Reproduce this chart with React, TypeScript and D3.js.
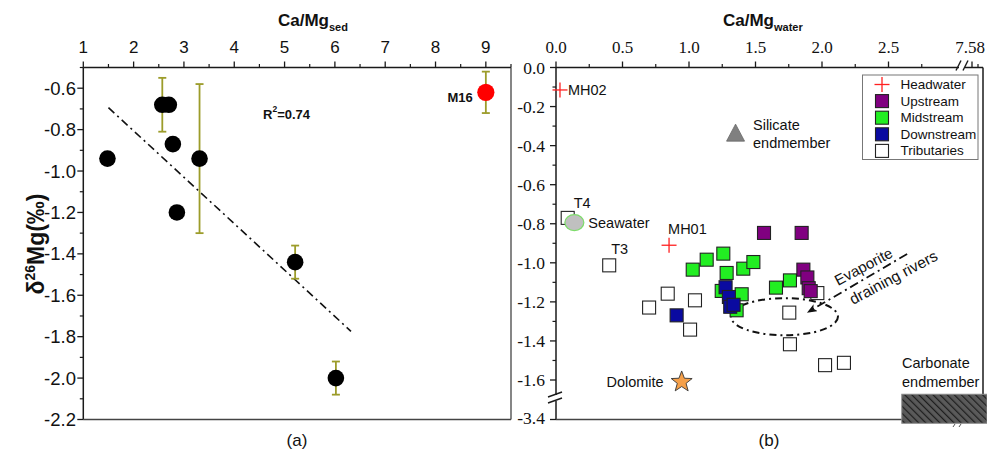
import React from "react";
import * as d3 from "d3";

// ---------- Data: panel (a) ----------
const sedX = [1.48, 2.57, 2.7, 2.78, 2.86, 3.31, 5.21, 6.02];
const sedY = [-0.94, -0.68, -0.68, -0.87, -1.2, -0.94, -1.44, -2.0];
const sedErr = [0, 0.13, 0, 0, 0, 0.36, 0.08, 0.08];
const m16X = 9.0;
const m16Y = -0.62;
const m16Err = 0.1;
const fitX = [1.5, 6.32];
const fitY = [-0.694, -1.774];
const sedTicks = [1, 2, 3, 4, 5, 6, 7, 8, 9];
const deltaTicksA = [-2.2, -2.0, -1.8, -1.6, -1.4, -1.2, -1.0, -0.8, -0.6];

// ---------- Data: panel (b) ----------
const headwater = [
  { x: 0.03, y: -0.115, label: "MH02" },
  { x: 0.85, y: -0.91, label: "MH01" },
];
const tributaries = [
  [0.088, -0.77], [0.4, -1.013], [0.84, -1.158], [0.7, -1.229], [1.045, -1.192],
  [1.008, -1.342], [1.754, -1.255], [1.759, -1.417], [2.023, -1.524], [2.165, -1.512],
  [1.965, -1.155],
];
const midstream = [
  [1.028, -1.035], [1.133, -0.984], [1.258, -0.953], [1.283, -1.052], [1.408, -1.03],
  [1.484, -0.996], [1.246, -1.144], [1.396, -1.161], [1.358, -1.243], [1.654, -1.127],
  [1.759, -1.09],
];
const downstream = [
  [0.907, -1.269], [1.275, -1.125], [1.3, -1.175], [1.31, -1.225], [1.335, -1.215],
];
const upstream = [
  [1.564, -0.847], [1.847, -0.847], [1.86, -1.035], [1.89, -1.075], [1.9, -1.13], [1.915, -1.145],
];
const silicate = { x: 1.35, y: -0.336 };
const seawater = { x: 0.138, y: -0.794 };
const dolomite = { x: 0.945, y: -1.61 };
const waterTicks = [0, 0.5, 1.0, 1.5, 2.0, 2.5];
const deltaTicksB = [0, -0.2, -0.4, -0.6, -0.8, -1.0, -1.2, -1.4, -1.6];
const evapEllipse = { cx: 1.718, cy: -1.276, rx: 0.402, ry: 0.095 };
const evapArrow = [[2.64, -0.955], [1.9, -1.25]];

const SANS = "'Liberation Sans', Arial, sans-serif";
const SERIF = "'Liberation Serif', 'Times New Roman', serif";

const xL = d3.scaleLinear().domain([1, 9.5]).range([83.3, 511]);
const yL = d3.scaleLinear().domain([-2.2, -0.5]).range([419.5, 67.5]);
const xR = d3.scaleLinear().domain([0, 2.5]).range([556, 888.5]);
const yR = d3.scaleLinear().domain([-1.6, 0]).range([380, 67.5]);

const AX = "#1a1a1a";
const ERR = "#9c9c2a";

function Square({ x, y, fill }: { x: number; y: number; fill: string }) {
  const s = 13;
  return <rect x={x - s / 2} y={y - s / 2} width={s} height={s} fill={fill} stroke="#222" strokeWidth={1.1} />;
}
function Cross({ x, y }: { x: number; y: number }) {
  const s = 7.5;
  return (
    <g stroke="#ff2020" strokeWidth={1.3}>
      <line x1={x - s} x2={x + s} y1={y} y2={y} />
      <line x1={x} x2={x} y1={y - s} y2={y + s} />
    </g>
  );
}
function starPath(cx: number, cy: number, ro: number, ri: number) {
  const pts: string[] = [];
  for (let i = 0; i < 10; i++) {
    const r = i % 2 === 0 ? ro : ri;
    const a = -Math.PI / 2 + (i * Math.PI) / 5;
    pts.push(`${cx + r * Math.cos(a)},${cy + r * Math.sin(a)}`);
  }
  return "M" + pts.join("L") + "Z";
}

export default function App() {
  const top = 67.5;
  const botL = 419.5;
  const leftA = xL(1);
  const rightA = xL(9.5);
  const leftB = xR(0);
  const rightB = 983;
  const botB = 419.5;
  const brkX = 962;
  const brkY = 398;

  const minorA: number[] = d3.range(1.5, 9.51, 1);
  const minorAy: number[] = d3.range(-2.1, -0.49, 0.2);
  const minorBx: number[] = d3.range(0.25, 2.76, 0.5);
  const minorBy: number[] = d3.range(-0.1, -1.51, -0.2);

  const hatchX = xR(2.6);
  const hatchY = yR(-1.673);

  return (
    <svg width={987} height={453} style={{ position: "absolute", left: 0, top: 0, background: "#fff" }}>
      <defs>
        <pattern id="hatch" width={5} height={5} patternUnits="userSpaceOnUse" patternTransform="rotate(-45)">
          <rect width={5} height={5} fill="#5a5a5a" />
          <line x1={0} y1={0} x2={0} y2={5} stroke="#1e1e1e" strokeWidth={2.4} />
        </pattern>
        <marker id="arr" viewBox="0 0 10 8" refX={8} refY={4} markerWidth={10} markerHeight={8} markerUnits="userSpaceOnUse" orient="auto">
          <path d="M0,0 L10,4 L0,8 L2.5,4 Z" fill="#111" />
        </marker>
      </defs>

      {/* ================= Panel (a) ================= */}
      <g>
        <line x1={leftA} x2={rightA} y1={top} y2={top} stroke={AX} strokeWidth={1.5} />
        <line x1={leftA} x2={leftA} y1={top} y2={botL} stroke={AX} strokeWidth={1.5} />
        <line x1={rightA} x2={rightA} y1={top} y2={botL} stroke="#444" strokeWidth={1.3} />
        <line x1={leftA} x2={rightA} y1={botL} y2={botL} stroke="#444" strokeWidth={1.3} />
        {sedTicks.map((t) => (
          <g key={"ta" + t}>
            <line x1={xL(t)} x2={xL(t)} y1={top} y2={top - 6} stroke={AX} strokeWidth={1.3} />
            <text x={xL(t)} y={47} textAnchor="middle" dominantBaseline="central" fontFamily={SANS} fontSize={17} fill="#111">
              {t}
            </text>
          </g>
        ))}
        {minorA.map((t) => (
          <line key={"tma" + t} x1={xL(t)} x2={xL(t)} y1={top} y2={top - 3.5} stroke={AX} strokeWidth={1.2} />
        ))}
        {deltaTicksA.map((t) => (
          <g key={"la" + t}>
            <line x1={leftA} x2={leftA - 6} y1={yL(t)} y2={yL(t)} stroke={AX} strokeWidth={1.3} />
            <text x={76} y={yL(t)} textAnchor="end" dominantBaseline="central" fontFamily={SANS} fontSize={18.5} fill="#111">
              {t.toFixed(1)}
            </text>
          </g>
        ))}
        {minorAy.map((t) => (
          <line key={"lma" + t} x1={leftA} x2={leftA - 3.5} y1={yL(t)} y2={yL(t)} stroke={AX} strokeWidth={1.2} />
        ))}
        <text x={278} y={26} fontFamily={SANS} fontSize={17} fontWeight="bold" fill="#111">
          Ca/Mg<tspan fontSize={11} dy={5}>sed</tspan>
        </text>
        <text
          transform="translate(44,244) rotate(-90)"
          textAnchor="middle"
          fontFamily={SANS}
          fontSize={23}
          fontWeight="bold"
          fill="#111"
        >
          δ<tspan fontSize={14} dy={-9}>26</tspan>
          <tspan dy={9}>Mg(‰)</tspan>
        </text>
        <line
          x1={xL(fitX[0])}
          y1={yL(fitY[0])}
          x2={xL(fitX[1])}
          y2={yL(fitY[1])}
          stroke="#111"
          strokeWidth={1.6}
          strokeDasharray="8,4,2,4"
        />
        {sedX.map((x, i) =>
          sedErr[i] > 0 ? (
            <g key={"e" + i} stroke={ERR} strokeWidth={1.8}>
              <line x1={xL(x)} x2={xL(x)} y1={yL(sedY[i] + sedErr[i])} y2={yL(sedY[i] - sedErr[i])} />
              <line x1={xL(x) - 4} x2={xL(x) + 4} y1={yL(sedY[i] + sedErr[i])} y2={yL(sedY[i] + sedErr[i])} />
              <line x1={xL(x) - 4} x2={xL(x) + 4} y1={yL(sedY[i] - sedErr[i])} y2={yL(sedY[i] - sedErr[i])} />
            </g>
          ) : null
        )}
        <g stroke={ERR} strokeWidth={1.8}>
          <line x1={xL(m16X)} x2={xL(m16X)} y1={yL(m16Y + m16Err)} y2={yL(m16Y - m16Err)} />
          <line x1={xL(m16X) - 4} x2={xL(m16X) + 4} y1={yL(m16Y + m16Err)} y2={yL(m16Y + m16Err)} />
          <line x1={xL(m16X) - 4} x2={xL(m16X) + 4} y1={yL(m16Y - m16Err)} y2={yL(m16Y - m16Err)} />
        </g>
        {sedX.map((x, i) => (
          <circle key={"c" + i} cx={xL(x)} cy={yL(sedY[i])} r={8.3} fill="#000" />
        ))}
        <circle cx={xL(m16X)} cy={yL(m16Y)} r={8.6} fill="#ff0000" />
        <text x={xL(m16X) - 13} y={yL(m16Y) + 5} textAnchor="end" dominantBaseline="central" fontFamily={SANS} fontSize={13} fontWeight="bold" fill="#111">
          M16
        </text>
        <text x={263} y={114} dominantBaseline="central" fontFamily={SANS} fontSize={13} fontWeight="bold" fill="#111">
          R<tspan fontSize={8.5} dy={-5}>2</tspan>
          <tspan dy={5}>=0.74</tspan>
        </text>
        <text x={297} y={440} textAnchor="middle" dominantBaseline="central" fontFamily={SANS} fontSize={17} fill="#111">
          (a)
        </text>
      </g>

      {/* ================= Panel (b) ================= */}
      <g>
        <line x1={leftB} x2={rightB} y1={top} y2={top} stroke={AX} strokeWidth={1.5} />
        <line x1={leftB} x2={leftB} y1={top} y2={botB} stroke={AX} strokeWidth={1.5} />
        <line x1={rightB} x2={rightB} y1={top} y2={hatchY} stroke={AX} strokeWidth={1.5} />
        <line x1={leftB} x2={hatchX} y1={botB} y2={botB} stroke="#444" strokeWidth={1.3} />
        {waterTicks.map((t) => (
          <g key={"tb" + t}>
            <line x1={xR(t)} x2={xR(t)} y1={top} y2={top - 6} stroke={AX} strokeWidth={1.3} />
            <text x={xR(t)} y={47} textAnchor="middle" dominantBaseline="central" fontFamily={SERIF} fontSize={17} fill="#111">
              {t.toFixed(1)}
            </text>
          </g>
        ))}
        {minorBx.map((t) => (
          <line key={"tmb" + t} x1={xR(t)} x2={xR(t)} y1={top} y2={top - 3.5} stroke={AX} strokeWidth={1.2} />
        ))}
        <line x1={972} x2={972} y1={top} y2={top - 6} stroke={AX} strokeWidth={1.3} />
        <line x1={978} x2={978} y1={top} y2={top - 3.5} stroke={AX} strokeWidth={1.2} />
        <text x={970} y={47} textAnchor="middle" dominantBaseline="central" fontFamily={SERIF} fontSize={17} fill="#111">
          7.58
        </text>
        <rect x={brkX - 3} y={top - 6} width={6} height={10} fill="#fff" />
        <line x1={brkX - 6} y1={top + 3} x2={brkX - 1} y2={top - 7} stroke={AX} strokeWidth={1.4} />
        <line x1={brkX + 1} y1={top + 3} x2={brkX + 6} y2={top - 7} stroke={AX} strokeWidth={1.4} />
        {deltaTicksB.map((t) => (
          <g key={"lb" + t}>
            <line x1={leftB} x2={leftB - 6} y1={yR(t)} y2={yR(t)} stroke={AX} strokeWidth={1.3} />
            <text x={545} y={yR(t)} textAnchor="end" dominantBaseline="central" fontFamily={SERIF} fontSize={17.5} fill="#111">
              {t === 0 ? "0.0" : t.toFixed(1)}
            </text>
          </g>
        ))}
        {minorBy.map((t) => (
          <line key={"lmb" + t} x1={leftB} x2={leftB - 3.5} y1={yR(t)} y2={yR(t)} stroke={AX} strokeWidth={1.2} />
        ))}
        <line x1={leftB} x2={leftB - 6} y1={botB} y2={botB} stroke={AX} strokeWidth={1.3} />
        <text x={545} y={botB - 2} textAnchor="end" dominantBaseline="central" fontFamily={SERIF} fontSize={17.5} fill="#111">
          -3.4
        </text>
        <rect x={leftB - 4} y={brkY - 3} width={8} height={6} fill="#fff" />
        <line x1={leftB - 8} y1={brkY - 1} x2={leftB + 6} y2={brkY - 6} stroke={AX} strokeWidth={1.4} />
        <line x1={leftB - 8} y1={brkY + 5} x2={leftB + 6} y2={brkY} stroke={AX} strokeWidth={1.4} />

        <text x={723} y={26} fontFamily={SANS} fontSize={17} fontWeight="bold" fill="#111">
          Ca/Mg<tspan fontSize={11} dy={5}>water</tspan>
        </text>

        <ellipse
          cx={xR(evapEllipse.cx)}
          cy={yR(evapEllipse.cy)}
          rx={xR(evapEllipse.rx) - xR(0)}
          ry={yR(0) - yR(evapEllipse.ry)}
          fill="none"
          stroke="#111"
          strokeWidth={2}
          strokeDasharray="7,4,2,4"
        />
        <line
          x1={xR(evapArrow[0][0])}
          y1={yR(evapArrow[0][1])}
          x2={xR(evapArrow[1][0])}
          y2={yR(evapArrow[1][1])}
          stroke="#111"
          strokeWidth={1.8}
          strokeDasharray="9,4,2,4"
          markerEnd="url(#arr)"
        />
        <text transform="translate(838,286) rotate(-28)" fontFamily={SANS} fontSize={15} fill="#111">
          Evaporite
        </text>
        <text transform="translate(853,305) rotate(-28)" fontFamily={SANS} fontSize={15.5} fill="#111">
          draining rivers
        </text>

        {tributaries.map(([x, y], i) => (
          <Square key={"tr" + i} x={xR(x)} y={yR(y)} fill="#fff" />
        ))}
        {midstream.map(([x, y], i) => (
          <Square key={"mi" + i} x={xR(x)} y={yR(y)} fill="#22ee22" />
        ))}
        {downstream.map(([x, y], i) => (
          <Square key={"do" + i} x={xR(x)} y={yR(y)} fill="#0a0aa0" />
        ))}
        {upstream.map(([x, y], i) => (
          <Square key={"up" + i} x={xR(x)} y={yR(y)} fill="#800080" />
        ))}
        {headwater.map((h) => (
          <g key={h.label}>
            <Cross x={xR(h.x)} y={yR(h.y)} />
          </g>
        ))}
        <text x={xR(headwater[0].x) + 8} y={yR(headwater[0].y)} dominantBaseline="central" fontFamily={SANS} fontSize={14.5} fill="#111">
          MH02
        </text>
        <text x={xR(headwater[1].x) - 1} y={yR(headwater[1].y) - 16} dominantBaseline="central" fontFamily={SANS} fontSize={14.5} fill="#111">
          MH01
        </text>
        <text x={xR(tributaries[0][0]) + 6} y={yR(tributaries[0][1]) - 15} dominantBaseline="central" fontFamily={SANS} fontSize={14.5} fill="#111">
          T4
        </text>
        <text x={xR(tributaries[1][0]) + 2} y={yR(tributaries[1][1]) - 16} dominantBaseline="central" fontFamily={SANS} fontSize={14.5} fill="#111">
          T3
        </text>

        <ellipse cx={xR(seawater.x)} cy={yR(seawater.y)} rx={9.5} ry={8} fill="#c0c0c0" stroke="#7ddc6a" strokeWidth={1.2} />
        <text x={xR(seawater.x) + 14} y={yR(seawater.y)} dominantBaseline="central" fontFamily={SANS} fontSize={14.5} fill="#111">
          Seawater
        </text>
        <path
          d={`M${xR(silicate.x)},${yR(silicate.y) - 9} L${xR(silicate.x) + 9},${yR(silicate.y) + 8} L${xR(silicate.x) - 9},${yR(silicate.y) + 8} Z`}
          fill="#808080"
          stroke="#666"
          strokeWidth={0.8}
        />
        <text x={753} y={yR(silicate.y) - 8} dominantBaseline="central" fontFamily={SANS} fontSize={14.5} fill="#111">
          Silicate
        </text>
        <text x={753} y={yR(silicate.y) + 10} dominantBaseline="central" fontFamily={SANS} fontSize={14.5} fill="#111">
          endmember
        </text>
        <path d={starPath(xR(dolomite.x), yR(dolomite.y), 11, 4.6)} fill="#f5a04a" stroke="#333" strokeWidth={0.9} />
        <text x={xR(dolomite.x) - 18} y={yR(dolomite.y)} textAnchor="end" dominantBaseline="central" fontFamily={SANS} fontSize={14.5} fill="#111">
          Dolomite
        </text>

        <rect x={hatchX} y={hatchY} width={987 - hatchX} height={29} fill="url(#hatch)" stroke="#888" strokeWidth={1} />
        <text x={902} y={363} dominantBaseline="central" fontFamily={SANS} fontSize={14.5} fill="#111">
          Carbonate
        </text>
        <text x={902} y={381.5} dominantBaseline="central" fontFamily={SANS} fontSize={14.5} fill="#111">
          endmember
        </text>
        <line x1={953} y1={427} x2={955} y2={424} stroke="#555" strokeWidth={1} />
        <line x1={959} y1={427} x2={961} y2={424} stroke="#555" strokeWidth={1} />

        <rect x={862.5} y={75} width={115.5} height={84.5} fill="#fff" stroke="#777" strokeWidth={1} />
        {[
          { label: "Headwater", type: "cross", fill: "" },
          { label: "Upstream", type: "sq", fill: "#800080" },
          { label: "Midstream", type: "sq", fill: "#22ee22" },
          { label: "Downstream", type: "sq", fill: "#0a0aa0" },
          { label: "Tributaries", type: "sq", fill: "#fff" },
        ].map((e, i) => {
          const cy = 84.5 + i * 16.6;
          return (
            <g key={e.label}>
              {e.type === "cross" ? <Cross x={882} y={cy} /> : <Square x={882} y={cy} fill={e.fill} />}
              <text x={900.5} y={cy} dominantBaseline="central" fontFamily={SANS} fontSize={13.5} fill="#111">
                {e.label}
              </text>
            </g>
          );
        })}

        <text x={769} y={440} textAnchor="middle" dominantBaseline="central" fontFamily={SANS} fontSize={17} fill="#111">
          (b)
        </text>
      </g>
    </svg>
  );
}
